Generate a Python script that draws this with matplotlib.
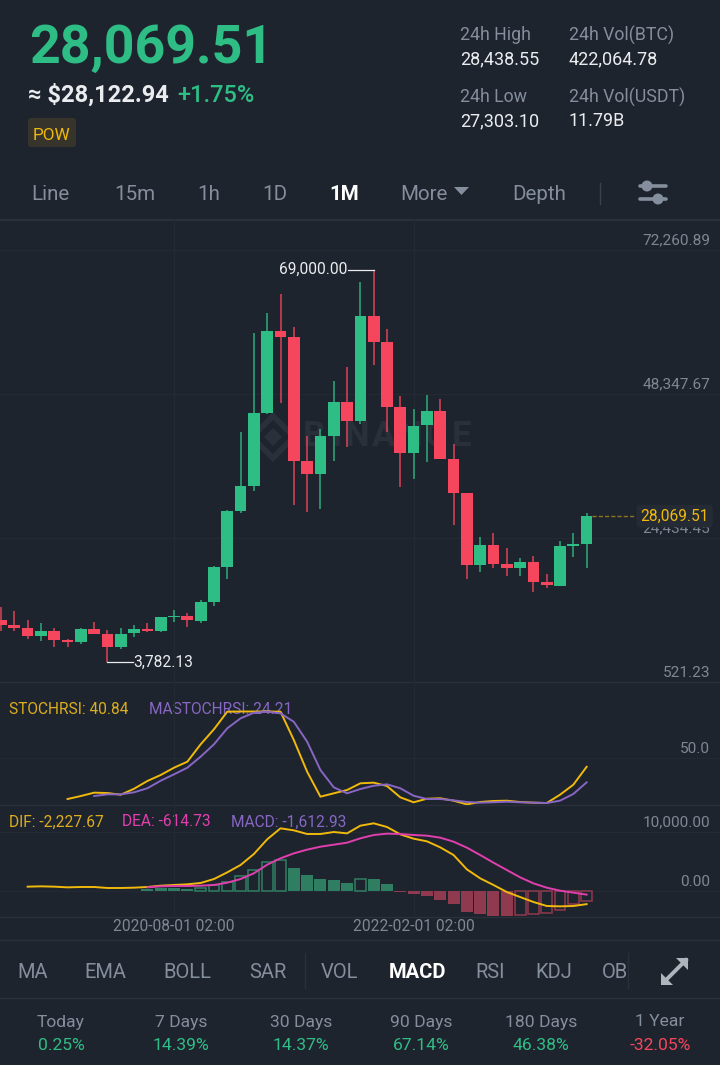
"""
plot.py - BTC/USDT monthly candles with STOCHRSI and MACD panels, phone screen layout.
"""
import numpy as np
import matplotlib
matplotlib.use("Agg")
import matplotlib.pyplot as plt
from matplotlib.patches import FancyBboxPatch, Polygon, Circle

plt.rcParams["font.family"] = ["Roboto", "DejaVu Sans"]

W, H = 720, 1065

BG = "#1e242e"
GRID = "#242a34"
LINE = "#2a303a"
GRAY = "#848e9c"
AXIS_GRAY = "#7f8793"
WHITE = "#eaecef"
GREEN = "#2ebd85"
RED = "#f6465d"
YELLOW = "#f0b90b"
PURPLE = "#8766c4"
PINK = "#e23fae"
DIM_GREEN = "#2f7e62"
DIM_RED = "#8f3a4e"

# monthly candles, 2019-07 .. 2023-03
opens = [10820, 9985, 9490, 8210, 9040, 7495, 7163, 9272, 8492, 6333, 8608, 9372,
         9040, 11265, 11530, 10700, 13756, 19668, 28917, 33069, 45142, 58757, 57761,
         37270, 35061, 41421, 47067, 43813, 61299, 56981, 46238, 38499, 43198, 45523,
         37602, 31857, 19900, 23271, 20066, 19452, 20448, 17177, 16512, 23105, 23388]
closes = [9990, 9490, 8210, 9040, 7495, 7163, 9272, 8492, 6333, 8492, 9272, 9040,
          11265, 11530, 10817, 13756, 19668, 28917, 33069, 45142, 58757, 57761, 37270,
          35061, 41421, 47067, 43813, 61299, 56981, 46238, 38499, 43081, 45523, 37602,
          31857, 19900, 23271, 20066, 19452, 20448, 17177, 16579, 23055, 23388, 28069.51]
highs = [13030, 12311, 10817, 10319, 9490, 7711, 9490, 10435, 9156, 9490, 9986, 10368,
         11365, 12477, 12029, 14138, 19784, 29083, 41986, 58426, 61848, 64902, 59522,
         41372, 42484, 50555, 52880, 66995, 69000, 59090, 48012, 45855, 48180, 47466,
         40043, 31950, 24650, 25313, 22823, 21063, 21445, 18405, 23985, 25313, 28535]
lows = [9040, 9040, 7660, 7330, 6383, 6383, 6881, 8492, 3782.13, 6051, 7994, 8824,
        8874, 10435, 9704, 10368, 13191, 17575, 28585, 32238, 45000, 46901, 29914,
        28801, 29249, 37270, 39595, 43315, 53162, 42036, 32854, 34281, 37054, 37602,
        26592, 17575, 18737, 19502, 18123, 18173, 15516, 16081, 16499, 21228, 19502]

price_ticks = [521.23, 24434.45, 48347.67, 72260.89]
price_tick_labels = ["521.23", "24,434.45", "48,347.67", "72,260.89"]

# these start late, they end on the last candle
stoch_rsi = [6.4, 9.6, 13.2, 12.8, 11.0, 17.4, 25.7, 32.1, 39.9, 46.3, 64.9, 81.0, 99.8,
             100, 100, 100, 99.8, 69.5, 35.6, 8.9, 12.5, 16.0, 23.2, 23.9, 20.3, 8.2,
             2.9, 6.7, 7.2, 4.6, 0.7, 3.2, 4.3, 4.6, 3.2, 2.5, 2.1, 11.0, 21.7, 40.84]
ma_stoch_rsi = [9.6, 11.4, 11.4, 13.6, 17.9, 26, 32.8, 39.9, 51.7, 64.9, 82, 92.7, 98.7,
                99.8, 98, 89, 67.7, 37.4, 18.9, 12.5, 17.1, 20.6, 22.1, 17.9, 9.9, 6.4,
                6.4, 5, 3.2, 2.5, 2.9, 3.5, 2.9, 2.5, 2.1, 4.6, 11.8, 24.21]

dif = [735, 790, 735, 620, 680, 680, 510, 510, 565, 680, 900, 1020, 1130, 1360, 2030,
       3160, 4410, 6270, 8760, 10620, 10280, 9660, 9660, 10000, 9770, 11070, 11470,
       10850, 9600, 8870, 8420, 7400, 6100, 3670, 2150, 1020, -170, -1020, -1860,
       -2540, -2600, -2540, -2227.67]
dea = [620, 790, 850, 850, 900, 1020, 1410, 2030, 3000, 4460, 5540, 6380, 7010, 7510,
       7850, 8190, 8930, 9490, 9720, 9660, 9490, 9380, 9040, 8360, 7350, 6100, 4800,
       3560, 2320, 1300, 565, 56, -280, -614.73]
macd = [340, 450, 450, 280, 565, 1020, 1470, 2490, 3500, 4860, 5310, 3840, 2710, 2090,
        1860, 1410, 2090, 2030, 1130, -226, -565, -790, -1525, -2260, -3500, -3955,
        -4240, -4290, -4070, -3955, -3785, -3160, -2260, -1612.93]
# True = outline only, the bar grew against the previous month
macd_hollow = [False, False, False, False, True, True, True, True, True, True, True,
               False, False, False, False, False, True, False, False, False, False,
               False, False, False, False, False, False, False, True, True, True,
               True, True, True]

date_ticks = [13, 31]
date_labels = ["2020-08-01 02:00", "2022-02-01 02:00"]

period_tabs = [("Line", 31), ("15m", 114), ("1h", 197), ("1D", 262), ("More", 400), ("Depth", 512)]
indicator_tabs = [("MA", 33), ("EMA", 105), ("BOLL", 187), ("SAR", 268), ("VOL", 339),
                  ("RSI", 490), ("KDJ", 554), ("OB", 615)]
period_names = ["Today", "7 Days", "30 Days", "90 Days", "180 Days", "1 Year"]
period_x = [61, 181, 301, 421, 541, 660]
period_changes = ["0.25%", "14.39%", "14.37%", "67.14%", "46.38%", "-32.05%"]
watermark_letters = ["B", "I", "N", "A", "N", "C", "E"]
watermark_x = [303, 331, 345, 372, 398, 425, 452]


def make_panel(fig, top, bottom):
    ax = fig.add_axes([0, 1 - bottom / H, 1, (bottom - top) / H])
    ax.patch.set_alpha(0)
    for s in ax.spines.values():
        s.set_visible(False)
    # x is the candle number, first candle centre at px 1, 13.31 px apart
    ax.set_xlim(-1 / 13.31, 719 / 13.31)
    ax.set_xticks(date_ticks)
    ax.set_xticklabels([])
    ax.set_yticks([])
    ax.tick_params(axis="x", length=0)
    ax.grid(axis="x", color=GRID, lw=0.8)
    ax.set_axisbelow(True)
    return ax


def right_label(ax, value, label, color=AXIS_GRAY, size=11.1):
    ax.annotate(label, xy=(1, value), xycoords=ax.get_yaxis_transform(),
                xytext=(-7, 1.6), textcoords="offset points", ha="right", va="bottom",
                color=color, fontsize=size)
    ax.axhline(value, color=GRID, lw=0.8, zorder=0)


def draw_header(bg):
    bg.text(29, 63, "28,069.51", color=GREEN, fontsize=38.7, fontweight="bold", va="baseline", ha="left")
    bg.text(28, 95, "≈ $28,122.94", color=WHITE, fontsize=17, fontweight="bold", va="center")
    bg.text(177, 95, "+1.75%", color=GREEN, fontsize=17, fontweight="medium", va="center")
    bg.add_patch(FancyBboxPatch((30, 120), 44, 25, boxstyle="round,pad=2,rounding_size=3",
                                fc="#37342b", ec="none"))
    bg.text(52, 135, "POW", color=YELLOW, fontsize=12.3, ha="center", va="center")

    for x, name, val, name2, val2 in [(460, "24h High", "28,438.55", "24h Low", "27,303.10"),
                                      (569, "24h Vol(BTC)", "422,064.78", "24h Vol(USDT)", "11.79B")]:
        bg.text(x, 35, name, color=GRAY, fontsize=12.8, va="center")
        bg.text(x, 59, val, color=WHITE, fontsize=13, va="center")
        bg.text(x, 97, name2, color=GRAY, fontsize=12.8, va="center")
        bg.text(x, 121, val2, color=WHITE, fontsize=13, va="center")

    for name, x in period_tabs:
        bg.text(x, 195, name, color=GRAY, fontsize=14.8, va="center")
    bg.text(329, 195, "1M", color="white", fontsize=14.8, fontweight="bold", va="center")
    bg.add_patch(Polygon([(454, 187), (469, 187), (461.5, 195)], fc=GRAY, ec="none"))
    bg.plot([600, 600], [183, 204], color="#3a414c", lw=1)

    # sliders icon
    bg.plot([640, 666], [186, 186], color=GRAY, lw=2.6, solid_capstyle="round")
    bg.plot([640, 666], [199, 199], color=GRAY, lw=2.6, solid_capstyle="round")
    bg.add_patch(Circle((647, 186), 5.5, fc=GRAY, ec="none"))
    bg.add_patch(Circle((658, 199), 5.5, fc=GRAY, ec="none"))


def draw_footer(bg):
    for name, x in indicator_tabs:
        bg.text(x, 973, name, color=GRAY, fontsize=14.5, va="center", ha="center")
    bg.text(417, 973, "MACD", color="white", fontsize=14.5, fontweight="bold", va="center", ha="center")
    bg.plot([305, 305], [953, 988], color=LINE, lw=1)
    bg.plot([628, 628], [953, 988], color=LINE, lw=1)

    # expand icon
    bg.plot([664, 686], [982, 960], color="#aeb4bc", lw=2.8)
    bg.add_patch(Polygon([(661, 985), (661, 973), (673, 985)], fc="#aeb4bc", ec="none"))
    bg.add_patch(Polygon([(688, 958), (676, 958), (688, 970)], fc="#aeb4bc", ec="none"))

    for name, x, chg in zip(period_names, period_x, period_changes):
        bg.text(x, 1022, name, color=GRAY, fontsize=12.6, va="center", ha="center")
        bg.text(x, 1045, chg, color=RED if chg.startswith("-") else GREEN,
                fontsize=12.6, va="center", ha="center")


def draw_watermark(bg):
    wm = "#2a303a"
    for r_out, r_in in [(25, 17), (9, 0)]:
        bg.add_patch(Polygon([(273, 437 - r_out), (273 + r_out, 437), (273, 437 + r_out), (273 - r_out, 437)],
                             fc=wm, ec="none"))
        if r_in:
            bg.add_patch(Polygon([(273, 437 - r_in), (273 + r_in, 437), (273, 437 + r_in), (273 - r_in, 437)],
                                 fc=BG, ec="none"))
    for letter, x in zip(watermark_letters, watermark_x):
        bg.text(x, 437, letter, color=wm, fontsize=25, fontweight="bold", va="center")


def draw_candles(ax):
    x = np.arange(len(closes))
    o, c, hi, lo = map(np.array, (opens, closes, highs, lows))
    colors = [GREEN if cl >= op else RED for op, cl in zip(o, c)]
    ax.vlines(x, lo, hi, colors=colors, lw=1.15, alpha=0.85)
    ax.bar(x, np.abs(c - o), bottom=np.minimum(o, c), width=0.88, color=colors)

    ax.plot([26.05, 28], [69000, 69000], color=WHITE, lw=0.9)
    ax.annotate("69,000.00", xy=(26.0, 69000), ha="right", va="center", color=WHITE, fontsize=11.2)
    ax.plot([8, 9.9], [3782.13, 3782.13], color=WHITE, lw=0.9)
    ax.annotate("3,782.13", xy=(9.95, 3782.13), ha="left", va="center", color=WHITE, fontsize=11.2)

    # live price tag hides the 24k tick label
    ax.plot([44.4, 47.6], [closes[-1], closes[-1]], color="#8f7420", lw=1, ls=(0, (3, 1.5)))
    ax.annotate("28,069.51", xy=(1, closes[-1]), xycoords=ax.get_yaxis_transform(),
                xytext=(-8, 0), textcoords="offset points", ha="right", va="center",
                color=YELLOW, fontsize=11.2,
                bbox=dict(boxstyle="round,pad=0.25", fc="#242b35", ec="none"), zorder=6)


def main():
    fig = plt.figure(figsize=(W / 100, H / 100), dpi=100, facecolor=BG)

    # pixel-coordinate layer for the app chrome
    bg = fig.add_axes([0, 0, 1, 1])
    bg.set_xlim(0, W)
    bg.set_ylim(H, 0)
    bg.axis("off")
    for y, lw in [(220, 1.6), (682, 1), (805, 1), (917, 1), (940, 1), (998, 1)]:
        bg.plot([0, W], [y, y], color=LINE, lw=lw)
    draw_header(bg)
    draw_footer(bg)
    draw_watermark(bg)

    # price panel, 166.06 price units per pixel
    ax_price = make_panel(fig, 220, 682)
    ax_price.set_ylim(521.23, 521.23 + 462 * 166.06)
    for val, lab in zip(price_ticks, price_tick_labels):
        right_label(ax_price, val, lab)
    draw_candles(ax_price)

    # STOCHRSI panel
    ax_stoch = make_panel(fig, 682, 805)
    ax_stoch.set_ylim(0, 123 / 0.935)
    right_label(ax_stoch, 50, "50.0")
    ax_stoch.plot(np.arange(45 - len(stoch_rsi), 45), stoch_rsi, color=YELLOW, lw=1.4)
    ax_stoch.plot(np.arange(45 - len(ma_stoch_rsi), 45), ma_stoch_rsi, color=PURPLE, lw=1.4)
    bg.text(9, 710, "STOCHRSI: 40.84", color="#dcae1d", fontsize=11.2, va="center")
    bg.text(149, 710, "MASTOCHRSI: 24.21", color=PURPLE, fontsize=11.2, va="center")

    # MACD panel, 0 at px 891, 59 px per 10,000
    ax_macd = make_panel(fig, 805, 917)
    ax_macd.set_ylim((891 - 917) / 0.0059, (891 - 805) / 0.0059)
    right_label(ax_macd, 0, "0.00")
    right_label(ax_macd, 10000, "10,000.00")
    bar_x = np.arange(45 - len(macd), 45)
    for xi, val, hollow in zip(bar_x, macd, macd_hollow):
        col = DIM_GREEN if val >= 0 else DIM_RED
        if hollow:
            ax_macd.bar(xi, val, width=0.82, facecolor="none", edgecolor=col, lw=1.1)
        else:
            ax_macd.bar(xi, val, width=0.9, facecolor=col, edgecolor="none")
    ax_macd.plot(np.arange(45 - len(dif), 45), dif, color=YELLOW, lw=1.4)
    ax_macd.plot(np.arange(45 - len(dea), 45), dea, color=PINK, lw=1.4)
    ax_macd.set_xticklabels(date_labels, color=AXIS_GRAY, fontsize=11.2)
    ax_macd.tick_params(axis="x", pad=1.5)
    bg.text(9, 822, "DIF: -2,227.67", color="#dcae1d", fontsize=11.2, va="center")
    bg.text(122, 822, "DEA: -614.73", color=PINK, fontsize=11.2, va="center")
    bg.text(231, 822, "MACD: -1,612.93", color=PURPLE, fontsize=11.2, va="center")

    fig.savefig("out.png", dpi=100, facecolor=BG)


if __name__ == "__main__":
    main()
